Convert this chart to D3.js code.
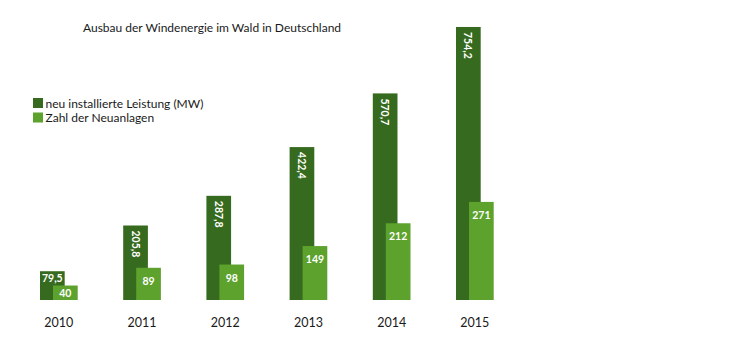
<!DOCTYPE html>
<html>
<head>
<meta charset="utf-8">
<script src="https://cdn.jsdelivr.net/npm/d3@7"></script>
<style>
  body { margin: 0; background: #fff; }
  text { font-family: Lato, "Open Sans", sans-serif; }
</style>
</head>
<body>
<svg width="750" height="350"></svg>
<script>
const years = ["2010", "2011", "2012", "2013", "2014", "2015"];
const leistung = [79.5, 205.8, 287.8, 422.4, 570.7, 754.2];
const anlagen = [40, 89, 98, 149, 212, 271];
const seriesNames = ["neu installierte Leistung (MW)", "Zahl der Neuanlagen"];
const title = "Ausbau der Windenergie im Wald in Deutschland";

const dark = "#366a1e";
const light = "#5da22d";
const fmt = v => String(v).replace(".", ",");

const svg = d3.select("svg");
const base = 300;

const x = d3.scaleBand().domain(years).range([40, 493.7]).paddingInner(0.547).paddingOuter(0);
const y = d3.scaleLinear().domain([0, 800]).range([base, base - 800 * 0.362]);
const bw = x.bandwidth() * 0.655;
const off = x.bandwidth() - bw;

// title
svg.append("text")
    .attr("x", 83).attr("y", 32)
    .attr("font-size", 12).attr("fill", "#1a1a1a")
    .text(title);

// legend
const legend = svg.append("g").attr("transform", "translate(33,98)");
seriesNames.forEach((n, i) => {
    legend.append("rect").attr("x", 0).attr("y", i * 14.5).attr("width", 10).attr("height", 10)
        .attr("fill", i === 0 ? dark : light);
    legend.append("text").attr("x", 12.5).attr("y", i * 14.5 + 9.5)
        .attr("font-size", 12).attr("fill", "#1a1a1a").text(n);
});

const groups = svg.selectAll("g.year")
    .data(years)
    .enter().append("g")
    .attr("class", "year")
    .attr("transform", d => `translate(${x(d)},0)`);

// dunkle Balken (Leistung)
groups.append("rect")
    .attr("x", 0)
    .attr("y", (_, i) => y(leistung[i]))
    .attr("width", bw)
    .attr("height", (_, i) => base - y(leistung[i]))
    .attr("fill", dark);

// helle Balken (Anlagen)
groups.append("rect")
    .attr("x", off)
    .attr("y", (_, i) => y(anlagen[i]))
    .attr("width", bw)
    .attr("height", (_, i) => base - y(anlagen[i]))
    .attr("fill", light);

// Beschriftung
groups.each(function (d, i) {
    const g = d3.select(this);
    const top = y(leistung[i]);
    if (base - top < 50) {
        g.append("text")
            .attr("x", bw / 2).attr("y", top + 11)
            .attr("text-anchor", "middle")
            .attr("font-size", 10.5).attr("font-weight", "bold").attr("fill", "#fff")
            .text(fmt(leistung[i]));
    } else {
        g.append("text")
            .attr("transform", `translate(${bw / 2 - 4},${top + 5}) rotate(90)`)
            .attr("font-size", 10.5).attr("font-weight", "bold").attr("fill", "#fff")
            .text(fmt(leistung[i]));
    }
    const ltop = y(anlagen[i]);
    const ly = Math.min(ltop + 13, (ltop + base) / 2);
    g.append("text")
        .attr("x", off + bw / 2).attr("y", ly + 4)
        .attr("text-anchor", "middle")
        .attr("font-size", 10.5).attr("font-weight", "bold").attr("fill", "#fff")
        .text(anlagen[i]);
});

// Jahre
groups.append("text")
    .attr("x", x.bandwidth() / 2)
    .attr("y", 327)
    .attr("text-anchor", "middle")
    .attr("font-size", 12.5).attr("fill", "#1a1a1a")
    .text(d => d);
</script>
</body>
</html>
